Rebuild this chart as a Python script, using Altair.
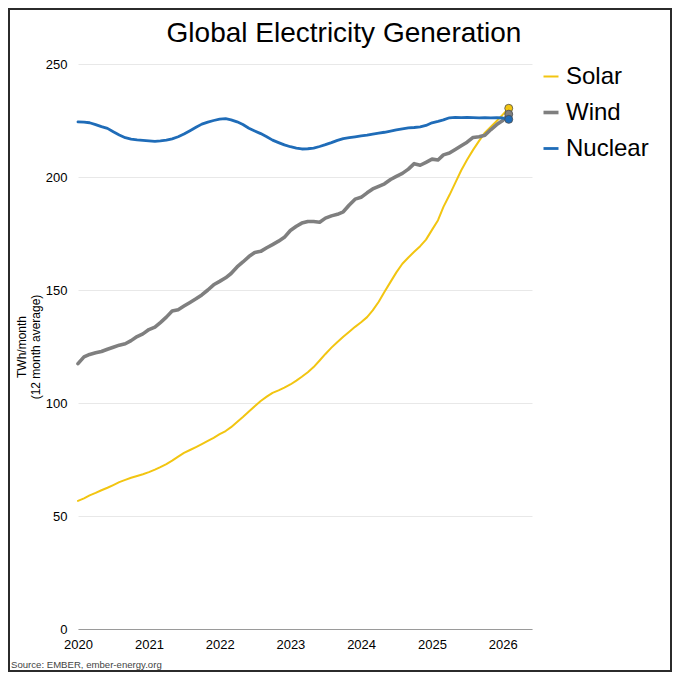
import altair as alt
import pandas as pd

# ---- data (monthly, Jan 2020 .. Feb 2026) ----
months = pd.date_range("2020-01-01", periods=74, freq="MS").strftime("%Y-%m-%d").tolist()

solar = [56.7, 57.8, 59.1, 60.2, 61.4, 62.5, 63.7, 65.0, 66.0, 66.9, 67.7, 68.5,
         69.4, 70.5, 71.6, 73.0, 74.5, 76.3, 77.9, 79.2, 80.5, 81.8, 83.2, 84.6,
         86.2, 87.6, 89.3, 91.6, 93.8, 96.2, 98.6, 100.9, 102.8, 104.5, 105.6, 106.8,
         108.2, 109.9, 111.6, 113.6, 115.9, 118.8, 121.7, 124.5, 127.0, 129.3, 131.5, 133.7,
         135.7, 138.0, 141.0, 144.8, 149.2, 153.6, 157.8, 161.6, 164.4, 166.9, 169.4, 172.3,
         176.6, 180.9, 186.8, 192.0, 197.4, 203.0, 207.6, 212.0, 216.0, 219.6, 222.2, 224.8,
         227.6, 230.4]

wind = [117.4, 120.4, 121.5, 122.2, 122.8, 123.8, 124.7, 125.6, 126.2, 127.6, 129.4, 130.6,
        132.5, 133.6, 135.6, 138.0, 140.7, 141.3, 142.9, 144.5, 146.1, 147.8, 150.0, 152.3,
        153.8, 155.4, 157.3, 160.2, 162.4, 164.8, 166.6, 167.1, 168.7, 170.1, 171.6, 173.3,
        176.3, 178.2, 179.6, 180.3, 180.3, 180.0, 181.8, 182.8, 183.5, 184.6, 187.6, 190.2,
        191.0, 193.0, 194.7, 195.9, 197.0, 198.9, 200.3, 201.6, 203.5, 205.9, 205.2, 206.5,
        207.9, 207.5, 209.8, 210.6, 212.2, 213.8, 215.4, 217.5, 217.8, 218.5, 221.0, 223.2,
        225.0, 227.8]

nuclear = [224.4, 224.3, 224.0, 223.2, 222.3, 221.5, 220.0, 218.6, 217.4, 216.8, 216.4, 216.2,
           216.0, 215.8, 216.0, 216.3, 216.9, 217.8, 219.0, 220.5, 222.0, 223.4, 224.3, 225.0,
           225.6, 225.8, 225.3, 224.4, 223.2, 221.6, 220.4, 219.2, 217.8, 216.3, 215.2, 214.2,
           213.4, 212.8, 212.4, 212.5, 212.8, 213.5, 214.3, 215.2, 216.2, 217.0, 217.4, 217.8,
           218.2, 218.5, 219.0, 219.4, 219.8, 220.3, 220.8, 221.3, 221.7, 221.9, 222.2, 222.8,
           224.0, 224.6, 225.3, 226.2, 226.4, 226.3, 226.4, 226.3, 226.2, 226.3, 226.2, 226.3,
           226.1, 225.5]

series = ["Solar", "Wind", "Nuclear"]
colors = ["#F2C511", "#7F7F7F", "#1F6CB8"]
widths = [2, 3.6, 2.8]
years = [2020, 2021, 2022, 2023, 2024, 2025, 2026]
y_ticks = [0, 50, 100, 150, 200, 250]
title_text = "Global Electricity Generation"
source_text = "Source: EMBER, ember-energy.org"

rows = []
for name, vals in zip(series, [solar, wind, nuclear]):
    for d, v in zip(months, vals):
        rows.append({"date": d, "series": name, "width_key": name, "value": v})
df = pd.DataFrame(rows)
last = df[df["date"] == months[-1]]

W, H = 454, 565
FONT = "Liberation Sans"

x_enc = alt.X(
    "date:T",
    scale=alt.Scale(type="utc",
                    domain=[alt.DateTime(year=2020, month=1, date=1, utc=True),
                            alt.DateTime(year=2026, month=6, date=1, utc=True)]),
    axis=alt.Axis(title=None, format="%Y",
                  values=[alt.DateTime(year=yr, month=1, date=1, utc=True) for yr in years],
                  grid=False, ticks=False, domainColor="#9a9a9a", domainWidth=1,
                  labelFlush=False, labelOverlap=False,
                  labelFontSize=13, labelPadding=9, labelColor="#000000", labelFont=FONT),
)
y_enc = alt.Y(
    "value:Q",
    scale=alt.Scale(domain=[0, 250], nice=False),
    axis=alt.Axis(values=y_ticks, title=["TWh/month", "(12 month average)"],
                  titleFontSize=12, titleFontWeight="normal", titleColor="#000000",
                  titleFont=FONT, titleLineHeight=14, titlePadding=3,
                  domain=False, ticks=False, labelPadding=11, labelFontSize=13,
                  labelColor="#000000", labelFont=FONT,
                  gridColor="#e8e8e8", gridWidth=1),
)

lines = alt.Chart(df).mark_line(strokeCap="round", strokeJoin="round").encode(
    x=x_enc,
    y=y_enc,
    color=alt.Color("series:N", scale=alt.Scale(domain=series, range=colors),
                    legend=alt.Legend(title=None, orient="none", legendX=461, legendY=0.5,
                                      symbolType="stroke", symbolSize=225,
                                      symbolStrokeWidth=2.5, labelFontSize=24,
                                      labelFont=FONT, labelColor="#000000",
                                      labelOffset=3, rowPadding=12, padding=0)),
    strokeWidth=alt.StrokeWidth("width_key:N",
                                scale=alt.Scale(type="ordinal", domain=series, range=widths),
                                legend=None),
    order=alt.Order("date:T"),
)

dots = alt.Chart(last).mark_circle(size=64, stroke="#4d4d4d", strokeWidth=0.8, opacity=1).encode(
    x="date:T",
    y="value:Q",
    color=alt.Color("series:N", scale=alt.Scale(domain=series, range=colors), legend=None),
)

frame = alt.Chart(pd.DataFrame({"k": [0]})).mark_rect(
    fillOpacity=0, stroke="#2b2b2b", strokeWidth=2
).encode(x=alt.value(-69), x2=alt.value(W + 139), y=alt.value(-55), y2=alt.value(H + 42))

source = alt.Chart(pd.DataFrame({"t": [source_text]})).mark_text(
    align="left", baseline="alphabetic", fontSize=9.6, font=FONT, color="#444444"
).encode(text="t:N", x=alt.value(-67), y=alt.value(H + 39))

title = alt.Chart(pd.DataFrame({"t": [title_text]})).mark_text(
    align="center", baseline="alphabetic", fontSize=28, font=FONT, color="#000000"
).encode(text="t:N", x=alt.value(266), y=alt.value(-22.3))

chart = alt.layer(lines, dots, frame, source, title).properties(
    width=W, height=H,
    autosize=alt.AutoSizeParams(type="none"),
    padding={"left": 70, "top": 56, "right": 140, "bottom": 43},
).configure(font=FONT).configure_view(stroke=None)

chart.save("out.html", embed_options={"renderer": "svg", "actions": False})
